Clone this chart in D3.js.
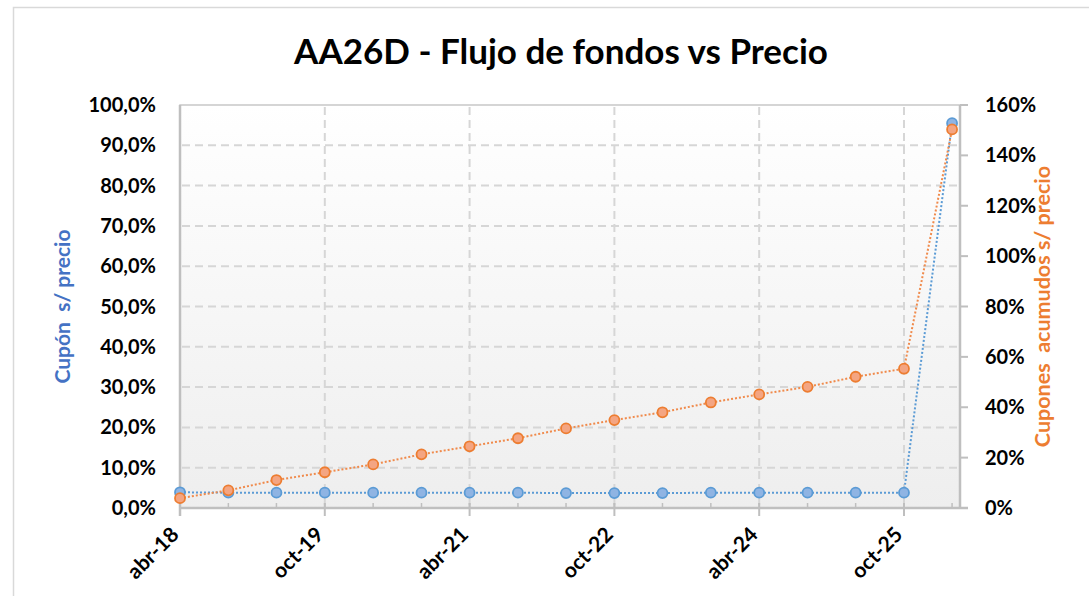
<!DOCTYPE html>
<html lang="es">
<head>
  <meta charset="utf-8">
  <title>AA26D - Flujo de fondos vs Precio</title>
  <style>
    body { margin: 0; background: #fff; font-family: Lato, "Open Sans", sans-serif; }
    text { font-family: Lato, "Open Sans", sans-serif; }
  </style>
</head>
<body>
  <svg id="chart"></svg>

  <script src="https://cdn.jsdelivr.net/npm/d3@7"></script>
  <script>
    // Semi-annual payment dates (year-month)
    const dates = ["2018-04", "2018-10", "2019-04", "2019-10", "2020-04", "2020-10",
                   "2021-04", "2021-10", "2022-04", "2022-10", "2023-04", "2023-10",
                   "2024-04", "2024-10", "2025-04", "2025-10", "2026-04"];
    // Cupón s/ precio (left axis, %)
    const coupon = [3.9, 3.8, 3.8, 3.8, 3.8, 3.8, 3.8, 3.8, 3.7,
                    3.7, 3.7, 3.8, 3.8, 3.8, 3.8, 3.8, 95.5];
    // Cupones acumulados s/ precio (right axis, %)
    const cumulative = [3.9, 7.0, 11.1, 14.2, 17.3, 21.3, 24.5, 27.7, 31.6,
                        34.9, 38.0, 41.9, 45.1, 48.1, 52.1, 55.3, 150.3];
    const xTickLabels = ["abr-18", "oct-19", "abr-21", "oct-22", "abr-24", "oct-25"];
    const leftTicks = [0, 10, 20, 30, 40, 50, 60, 70, 80, 90, 100];
    const rightTicks = [0, 20, 40, 60, 80, 100, 120, 140, 160];

    const width = 1089, height = 596;
    const plot = { left: 180, right: 960, top: 105, bottom: 508 };

    const parse = d3.timeParse("%Y-%m");
    const points = dates.map((d, i) => ({ date: parse(d), coupon: coupon[i], cum: cumulative[i] }));

    const x = d3.scaleTime()
      .domain([parse("2018-04"), parse("2026-05")])
      .range([plot.left, plot.right]);
    const yL = d3.scaleLinear().domain([0, 100]).range([plot.bottom, plot.top]);
    const yR = d3.scaleLinear().domain([0, 160]).range([plot.bottom, plot.top]);

    const svg = d3.select("#chart")
      .attr("width", width)
      .attr("height", height);

    // outer chart border
    svg.append("rect")
      .attr("x", 13.5).attr("y", 7.5)
      .attr("width", width).attr("height", height)
      .attr("fill", "#fff")
      .attr("stroke", "#d9d9d9")
      .attr("stroke-width", 1.5);

    // plot area gradient
    const grad = svg.append("defs").append("linearGradient")
      .attr("id", "bg").attr("x1", 0).attr("y1", 0).attr("x2", 0).attr("y2", 1);
    grad.append("stop").attr("offset", "0%").attr("stop-color", "#ffffff");
    grad.append("stop").attr("offset", "100%").attr("stop-color", "#eeeeee");

    svg.append("rect")
      .attr("x", plot.left).attr("y", plot.top)
      .attr("width", plot.right - plot.left).attr("height", plot.bottom - plot.top)
      .attr("fill", "url(#bg)")
      .attr("stroke", "#c8c8c8")
      .attr("stroke-width", 1.5);

    // title
    svg.append("text")
      .attr("x", 561).attr("y", 64)
      .attr("text-anchor", "middle")
      .attr("font-size", 35)
      .attr("font-weight", "bold")
      .attr("fill", "#000")
      .text("AA26D - Flujo de fondos vs Precio");

    // gridlines
    const grid = svg.append("g")
      .attr("stroke", "#d6d6d6")
      .attr("stroke-width", 2)
      .attr("stroke-dasharray", "8 5");

    grid.selectAll("line.h")
      .data(leftTicks.filter(t => t > 0 && t < 100))
      .join("line")
      .attr("class", "h")
      .attr("x1", plot.left + 2).attr("x2", plot.right - 2)
      .attr("y1", d => yL(d)).attr("y2", d => yL(d));

    const majorDates = points.filter((d, i) => i % 3 === 0).map(d => d.date);
    grid.selectAll("line.v")
      .data(majorDates.slice(1))
      .join("line")
      .attr("class", "v")
      .attr("x1", d => x(d)).attr("x2", d => x(d))
      .attr("y1", plot.top + 2).attr("y2", plot.bottom - 2);

    // axis lines (gray, thicker)
    const axisColor = "#bfbfbf";
    svg.append("line")
      .attr("x1", plot.left).attr("x2", plot.left)
      .attr("y1", plot.top).attr("y2", plot.bottom + 8)
      .attr("stroke", axisColor).attr("stroke-width", 2.5);
    svg.append("line")
      .attr("x1", plot.right).attr("x2", plot.right)
      .attr("y1", plot.top).attr("y2", plot.bottom)
      .attr("stroke", axisColor).attr("stroke-width", 2.5);
    svg.append("line")
      .attr("x1", plot.left).attr("x2", plot.right + 8)
      .attr("y1", plot.bottom).attr("y2", plot.bottom)
      .attr("stroke", axisColor).attr("stroke-width", 2.5);

    // bottom axis ticks
    svg.append("g").selectAll("line")
      .data(points.map(d => d.date))
      .join("line")
      .attr("x1", d => x(d)).attr("x2", d => x(d))
      .attr("y1", plot.bottom - 5).attr("y2", plot.bottom)
      .attr("stroke", axisColor).attr("stroke-width", 1.5);
    svg.append("g").selectAll("line")
      .data(majorDates)
      .join("line")
      .attr("x1", d => x(d)).attr("x2", d => x(d))
      .attr("y1", plot.bottom - 5).attr("y2", plot.bottom + 8)
      .attr("stroke", axisColor).attr("stroke-width", 2);

    // right axis ticks
    svg.append("g").selectAll("line")
      .data(rightTicks)
      .join("line")
      .attr("x1", plot.right).attr("x2", plot.right + 8)
      .attr("y1", d => yR(d)).attr("y2", d => yR(d))
      .attr("stroke", axisColor).attr("stroke-width", 2);

    // left tick labels
    const fmtL = d => d.toFixed(1).replace(".", ",") + "%";
    svg.append("g").selectAll("text")
      .data(leftTicks)
      .join("text")
      .attr("x", 156)
      .attr("y", d => yL(d) + 7)
      .attr("text-anchor", "end")
      .attr("font-size", 20)
      .attr("font-weight", "bold")
      .text(fmtL);

    // right tick labels
    svg.append("g").selectAll("text")
      .data(rightTicks)
      .join("text")
      .attr("x", 985)
      .attr("y", d => yR(d) + 7)
      .attr("text-anchor", "start")
      .attr("font-size", 20)
      .attr("font-weight", "bold")
      .text(d => d + "%");

    // x tick labels
    svg.append("g").selectAll("text")
      .data(majorDates)
      .join("text")
      .attr("transform", d => `translate(${x(d)},${plot.bottom + 28}) rotate(-45)`)
      .attr("text-anchor", "end")
      .attr("font-size", 21)
      .attr("font-weight", "bold")
      .text((d, i) => xTickLabels[i]);

    // axis titles
    svg.append("text")
      .attr("transform", `translate(70,${(plot.top + plot.bottom) / 2}) rotate(-90)`)
      .attr("text-anchor", "middle")
      .attr("font-size", 21)
      .attr("font-weight", "bold")
      .attr("fill", "#4472c4")
      .attr("xml:space", "preserve")
      .text("Cupón  s/ precio");

    svg.append("text")
      .attr("transform", `translate(1050,${(plot.top + plot.bottom) / 2}) rotate(-90)`)
      .attr("text-anchor", "middle")
      .attr("font-size", 21.5)
      .attr("font-weight", "bold")
      .attr("fill", "#ed7d31")
      .attr("xml:space", "preserve")
      .text("Cupones  acumudos s/ precio");

    // series
    const series = [
      { key: "coupon", y: yL, line: "#5b9bd5", fill: "#8fb4e3", stroke: "#5b9bd5" },
      { key: "cum", y: yR, line: "#f08a4b", fill: "#f4a582", stroke: "#ed7d31" }
    ];

    series.forEach(s => {
      const line = d3.line().x(d => x(d.date)).y(d => s.y(d[s.key]));
      svg.append("path")
        .datum(points)
        .attr("d", line)
        .attr("fill", "none")
        .attr("stroke", s.line)
        .attr("stroke-width", 2)
        .attr("stroke-dasharray", "2 2");
    });

    series.forEach(s => {
      svg.append("g").selectAll("circle")
        .data(points)
        .join("circle")
        .attr("cx", d => x(d.date))
        .attr("cy", d => s.y(d[s.key]))
        .attr("r", 5)
        .attr("fill", s.fill)
        .attr("stroke", s.stroke)
        .attr("stroke-width", 1.8);
    });
  </script>
</body>
</html>
